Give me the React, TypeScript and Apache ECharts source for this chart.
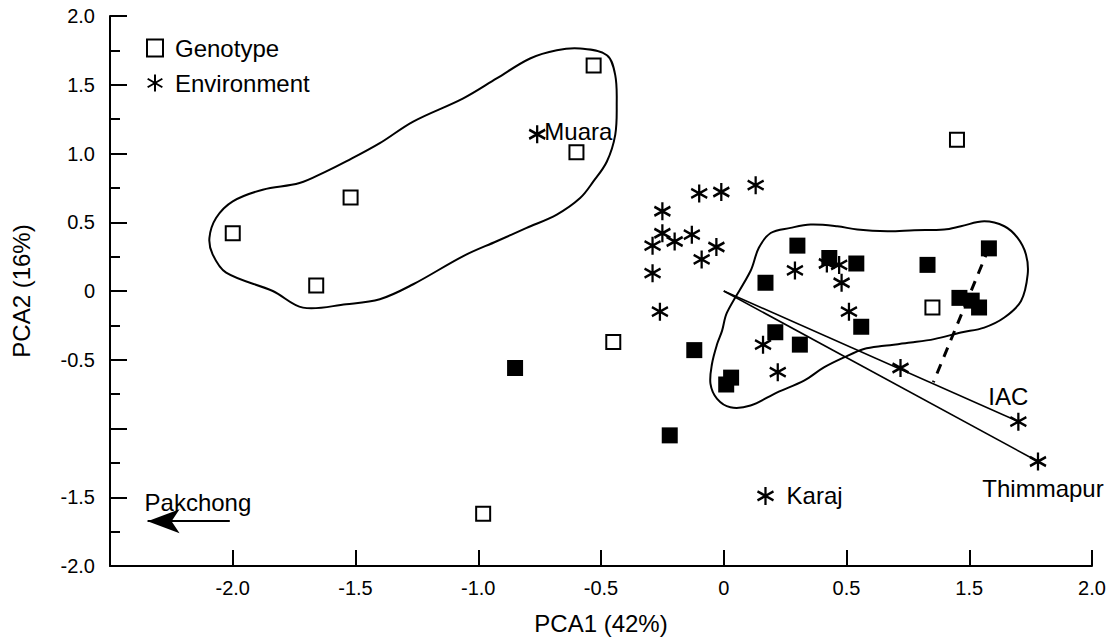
import React, { useEffect, useRef } from 'react';
import * as echarts from 'echarts';

// Axis ticks (positions on the drawn scale) and the labels printed on them
const X_TICK_VALUES = [-2, -1.5, -1, -0.5, 0, 0.5, 1, 1.5];
const X_TICK_LABELS = ['-2.0', '-1.5', '-1.0', '-0.5', '0', '0.5', '1.5', '2.0'];
const Y_TICK_VALUES = [-2, -1.5, -1, -0.5, 0, 0.5, 1, 1.5, 2];
const Y_TICK_LABELS = ['-2.0', '-1.5', '', '-0.5', '0', '0.5', '1.0', '1.5', '2.0'];

// Genotypes (open squares)
const GENO_OPEN_X = [-0.53, -0.6, -1.52, -2.0, -1.66, -0.45, -0.98, 0.85, 0.95];
const GENO_OPEN_Y = [1.64, 1.01, 0.68, 0.42, 0.04, -0.37, -1.62, -0.12, 1.1];

// Genotypes (filled squares)
const GENO_FILLED_X = [0.3, 0.43, 0.54, 0.17, 0.56, 0.21, 0.31, -0.12, 0.83, 1.08, 0.96, 1.01, 1.04, 0.03, 0.01, -0.22, -0.85];
const GENO_FILLED_Y = [0.33, 0.24, 0.2, 0.06, -0.26, -0.3, -0.39, -0.43, 0.19, 0.31, -0.05, -0.07, -0.12, -0.63, -0.68, -1.05, -0.56];

// Environments (asterisks)
const ENV_X = [-0.1, -0.01, 0.13, -0.25, -0.25, -0.2, -0.29, -0.13, -0.03, -0.09, -0.29, -0.26, 0.29, 0.42, 0.47, 0.48, 0.51, 0.16, 0.22, 0.72, 1.2, 1.28, -0.76, 0.17];
const ENV_Y = [0.71, 0.72, 0.77, 0.58, 0.42, 0.36, 0.33, 0.41, 0.32, 0.23, 0.13, -0.15, 0.15, 0.2, 0.19, 0.06, -0.15, -0.39, -0.59, -0.56, -0.95, -1.24, 1.14, -1.49];
const ENV_NAMES = ['', '', '', '', '', '', '', '', '', '', '', '', '', '', '', '', '', '', '', '', 'IAC', 'Thimmapur', 'Muara', 'Karaj'];

// Biplot vectors from the origin to these environments
const VECTOR_TARGETS = ['IAC', 'Thimmapur'];
// Dashed projection line
const PROJ_X = [1.08, 0.854];
const PROJ_Y = [0.314, -0.664];
// Pakchong arrow (start, tip)
const PAK_X = [-2.012, -2.347];
const PAK_Y = [-1.674, -1.674];

// Group outlines
const HULL_LEFT_X = [-0.585, -0.476, -0.442, -0.436, -0.442, -0.476, -0.531, -0.585, -0.68, -0.803, -0.925, -1.061, -1.265, -1.401, -1.538, -1.714, -1.837, -2.027, -2.082, -2.095, -2.068, -2.0, -1.878, -1.728, -1.619, -1.538, -1.401, -1.265, -1.061, -0.925, -0.789, -0.68];
const HULL_LEFT_Y = [1.763, 1.715, 1.57, 1.353, 1.136, 0.942, 0.797, 0.676, 0.556, 0.459, 0.362, 0.254, 0.049, -0.06, -0.096, -0.121, 0.0, 0.133, 0.266, 0.386, 0.531, 0.652, 0.737, 0.785, 0.87, 0.942, 1.075, 1.232, 1.401, 1.546, 1.691, 1.751];
const HULL_RIGHT_X = [-0.007, 0.013, 0.109, 0.143, 0.191, 0.272, 0.354, 0.462, 0.544, 0.667, 0.776, 0.898, 0.966, 1.061, 1.143, 1.197, 1.231, 1.238, 1.211, 1.143, 1.061, 0.966, 0.857, 0.762, 0.653, 0.571, 0.49, 0.408, 0.327, 0.218, 0.109, 0.027, -0.027, -0.054, -0.048, -0.027];
const HULL_RIGHT_Y = [-0.29, -0.157, 0.145, 0.314, 0.422, 0.459, 0.483, 0.471, 0.447, 0.435, 0.442, 0.447, 0.471, 0.507, 0.471, 0.386, 0.266, 0.121, -0.072, -0.193, -0.266, -0.302, -0.35, -0.375, -0.399, -0.422, -0.483, -0.556, -0.652, -0.737, -0.833, -0.846, -0.785, -0.676, -0.531, -0.386];

const FONT = '"Liberation Sans", Arial, Helvetica, sans-serif';
const ASTERISK = 'path://M10,0 L10,20 M1.34,5 L18.66,15 M1.34,15 L18.66,5';

const zip = (xs: number[], ys: number[]) => xs.map((x, i) => [x, ys[i]]);

const labelFor = (values: number[], labels: string[]) => (v: number) => {
  const i = values.findIndex((t) => Math.abs(t - v) < 1e-6);
  return i >= 0 ? labels[i] : '';
};

const LABEL_STYLE: Record<string, any> = {
  Muara: { position: 'right', distance: -2, offset: [0, -3] },
  Karaj: { position: 'right', distance: 12 },
  IAC: { position: 'top', distance: 3, offset: [-10, 0] },
  Thimmapur: { position: 'bottom', distance: 5, offset: [5, 0] },
};

function hullSeries(name: string, xs: number[], ys: number[]) {
  const pts = zip(xs, ys);
  return {
    name,
    type: 'custom',
    silent: true,
    z: 1,
    clip: false,
    data: pts,
    renderItem: (params: any, api: any) => {
      if (params.dataIndex !== 0) return null;
      const points = pts.map((p) => api.coord(p));
      return {
        type: 'polygon',
        shape: { points, smooth: 0.35 },
        style: { fill: 'none', stroke: '#000', lineWidth: 2 },
      };
    },
  };
}

export default function App() {
  const ref = useRef<HTMLDivElement>(null);

  useEffect(() => {
    if (!ref.current) return;
    const chart = echarts.init(ref.current, undefined, { renderer: 'svg' });

    const envData = ENV_X.map((x, i) => {
      const name = ENV_NAMES[i];
      const item: any = { value: [x, ENV_Y[i]], name };
      if (name && LABEL_STYLE[name]) {
        item.label = {
          show: true,
          formatter: name,
          fontSize: 24,
          fontFamily: FONT,
          color: '#000',
          ...LABEL_STYLE[name],
        };
      }
      return item;
    });

    const vectorSeries = VECTOR_TARGETS.map((t) => {
      const i = ENV_NAMES.indexOf(t);
      return {
        name: 'vector-' + t,
        type: 'line',
        silent: true,
        z: 2,
        symbol: 'none',
        data: [[0, 0], [ENV_X[i], ENV_Y[i]]],
        lineStyle: { color: '#000', width: 1.6, opacity: 1 },
      };
    });

    const option: any = {
      animation: false,
      backgroundColor: '#fff',
      textStyle: { fontFamily: FONT, color: '#000' },
      grid: { left: 110, right: 24, top: 16, bottom: 71, containLabel: false },
      legend: {
        data: ['Genotype', 'Environment'],
        orient: 'vertical',
        left: 141,
        top: 31,
        itemWidth: 16,
        itemHeight: 17,
        itemGap: 11,
        selectedMode: false,
        textStyle: { fontSize: 24, fontFamily: FONT, color: '#000', padding: [0, 0, 0, 7] },
      },
      xAxis: {
        type: 'value',
        min: -2.5,
        max: 1.5,
        interval: 0.5,
        name: 'PCA1 (42%)',
        nameLocation: 'middle',
        nameGap: 45,
        nameTextStyle: { fontSize: 24, fontFamily: FONT, color: '#000' },
        axisLine: { show: true, onZero: false, lineStyle: { color: '#000', width: 2 } },
        axisTick: { show: true, inside: true, length: 16, lineStyle: { color: '#000', width: 2 } },
        axisLabel: {
          margin: 12,
          fontSize: 20,
          fontFamily: FONT,
          color: '#000',
          formatter: labelFor(X_TICK_VALUES, X_TICK_LABELS),
        },
        splitLine: { show: false },
      },
      yAxis: {
        type: 'value',
        min: -2,
        max: 2,
        interval: 0.5,
        name: 'PCA2 (16%)',
        nameLocation: 'middle',
        nameGap: 77,
        nameTextStyle: { fontSize: 24, fontFamily: FONT, color: '#000' },
        axisLine: { show: true, onZero: false, lineStyle: { color: '#000', width: 2 } },
        axisTick: { show: true, inside: true, length: 17, lineStyle: { color: '#000', width: 2 } },
        minorTick: { show: true, splitNumber: 2, length: 10, lineStyle: { color: '#000', width: 2 } },
        axisLabel: {
          margin: 15,
          fontSize: 20,
          fontFamily: FONT,
          color: '#000',
          formatter: labelFor(Y_TICK_VALUES, Y_TICK_LABELS),
        },
        splitLine: { show: false },
      },
      series: [
        hullSeries('hull-left', HULL_LEFT_X, HULL_LEFT_Y),
        hullSeries('hull-right', HULL_RIGHT_X, HULL_RIGHT_Y),
        ...vectorSeries,
        {
          name: 'projection',
          type: 'line',
          silent: true,
          z: 2,
          symbol: 'none',
          data: zip(PROJ_X, PROJ_Y),
          lineStyle: { color: '#000', width: 3, type: [10, 8], opacity: 1 },
        },
        {
          name: 'Pakchong',
          type: 'scatter',
          silent: true,
          z: 3,
          symbolSize: 0,
          itemStyle: { opacity: 1 },
          data: [[PAK_X[1], PAK_Y[1]]],
          label: {
            show: true,
            formatter: 'Pakchong',
            position: [-3, -19],
            align: 'left',
            verticalAlign: 'middle',
            fontSize: 24,
            fontFamily: FONT,
            color: '#000',
          },
          markLine: {
            silent: true,
            animation: false,
            symbol: ['none', 'arrow'],
            symbolSize: [18, 32],
            label: { show: false },
            lineStyle: { color: '#000', width: 2, type: 'solid', opacity: 1 },
            itemStyle: { color: '#000' },
            data: [[{ coord: [PAK_X[0], PAK_Y[0]] }, { coord: [PAK_X[1], PAK_Y[1]] }]],
          },
        },
        {
          name: 'Genotype',
          type: 'scatter',
          z: 4,
          symbol: 'rect',
          symbolSize: 14,
          itemStyle: { color: '#fff', borderColor: '#000', borderWidth: 2, opacity: 1 },
          data: zip(GENO_OPEN_X, GENO_OPEN_Y),
        },
        {
          name: 'Genotype (filled)',
          type: 'scatter',
          z: 4,
          symbol: 'rect',
          symbolSize: 16,
          itemStyle: { color: '#000', opacity: 1 },
          data: zip(GENO_FILLED_X, GENO_FILLED_Y),
        },
        {
          name: 'Environment',
          type: 'scatter',
          z: 5,
          symbol: ASTERISK,
          symbolSize: [16, 18],
          itemStyle: { color: 'rgba(0,0,0,0)', borderColor: '#000', borderWidth: 2.4, opacity: 1 },
          data: envData,
        },
      ],
    };

    chart.setOption(option);
    return () => chart.dispose();
  }, []);

  return (
    <div
      ref={ref}
      style={{ position: 'fixed', left: 0, top: 0, width: 1116, height: 640, background: '#fff' }}
    />
  );
}
